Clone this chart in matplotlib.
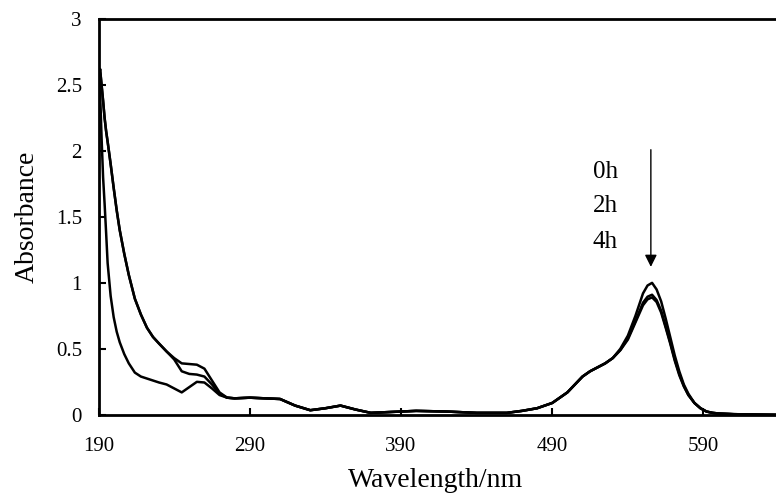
import matplotlib.pyplot as plt

plt.rcParams["font.family"] = ["Liberation Serif", "DejaVu Serif"]

# wavelength grid (nm) shared by the three spectra
wavelength = [190, 191, 192, 193, 194, 195, 196, 198, 200, 202, 204, 207, 210, 214, 218,
              222, 226, 230, 235, 240, 245, 250, 255, 260, 265, 270, 275, 280, 290, 300,
              310, 320, 330, 340, 350, 360, 370, 380, 390, 400, 420, 440, 460, 470, 480,
              490, 500, 505, 510, 515, 520, 525, 530, 535, 540, 545, 550, 553, 556, 559,
              562, 565, 568, 571, 574, 577, 580, 584, 588, 592, 596, 600, 610, 620, 640]

abs_0h = [2.62, 2.45, 2.10, 1.80, 1.60, 1.38, 1.15, 0.90, 0.74, 0.63, 0.55, 0.46, 0.39, 0.32, 0.29,
          0.275, 0.26, 0.245, 0.23, 0.20, 0.17, 0.21, 0.25, 0.245, 0.20, 0.15, 0.13, 0.125, 0.13, 0.125,
          0.12, 0.07, 0.035, 0.05, 0.07, 0.04, 0.015, 0.02, 0.025, 0.03, 0.025, 0.015, 0.015, 0.03, 0.05,
          0.09, 0.17, 0.23, 0.29, 0.33, 0.36, 0.39, 0.43, 0.50, 0.60, 0.75, 0.92, 0.98, 1.00, 0.95,
          0.86, 0.73, 0.59, 0.45, 0.33, 0.23, 0.16, 0.09, 0.05, 0.025, 0.015, 0.01, 0.005, 0.003, 0.0]

abs_2h = [2.55, 2.62, 2.50, 2.38, 2.25, 2.15, 2.07, 1.90, 1.72, 1.55, 1.40, 1.22, 1.06, 0.88, 0.76,
          0.66, 0.59, 0.54, 0.48, 0.42, 0.33, 0.31, 0.305, 0.29, 0.23, 0.16, 0.13, 0.125, 0.13, 0.125,
          0.12, 0.07, 0.035, 0.05, 0.07, 0.04, 0.015, 0.02, 0.025, 0.03, 0.025, 0.015, 0.015, 0.03, 0.05,
          0.09, 0.17, 0.23, 0.29, 0.33, 0.36, 0.39, 0.43, 0.49, 0.58, 0.71, 0.85, 0.895, 0.91, 0.87,
          0.79, 0.67, 0.55, 0.42, 0.31, 0.22, 0.15, 0.09, 0.05, 0.025, 0.015, 0.01, 0.005, 0.003, 0.0]

abs_4h = [2.55, 2.62, 2.50, 2.38, 2.25, 2.15, 2.07, 1.90, 1.72, 1.55, 1.40, 1.22, 1.06, 0.88, 0.76,
          0.66, 0.59, 0.54, 0.48, 0.43, 0.39, 0.385, 0.38, 0.35, 0.26, 0.17, 0.13, 0.125, 0.13, 0.125,
          0.12, 0.07, 0.035, 0.05, 0.07, 0.04, 0.015, 0.02, 0.025, 0.03, 0.025, 0.015, 0.015, 0.03, 0.05,
          0.09, 0.17, 0.23, 0.29, 0.33, 0.36, 0.39, 0.43, 0.49, 0.57, 0.70, 0.83, 0.875, 0.89, 0.855,
          0.775, 0.66, 0.54, 0.41, 0.30, 0.215, 0.15, 0.09, 0.05, 0.025, 0.015, 0.01, 0.005, 0.003, 0.0]

time_labels = ["0h", "2h", "4h"]
x_ticks = [190, 290, 390, 490, 590]
y_ticks = [0, 0.5, 1, 1.5, 2, 2.5, 3]

fig = plt.figure(figsize=(7.76, 4.98), dpi=100)
ax = fig.add_axes([0.127, 0.167, 0.877, 0.795])

for spec in (abs_0h, abs_2h, abs_4h):
    ax.plot(wavelength, spec, color="black", lw=1.8, solid_joinstyle="round")

ax.set_xlim(190, 640)
ax.set_ylim(0, 3)
ax.set_xticks(x_ticks)
ax.set_yticks(y_ticks)
ax.set_yticklabels([f"{t:g}" for t in y_ticks])
ax.tick_params(direction="in", length=5, width=1.5, labelsize=15, pad=12)
ax.tick_params(axis="x", pad=16)
for side in ("left", "bottom", "top", "right"):
    ax.spines[side].set_linewidth(2)

ax.set_xlabel("Wavelength/nm", fontsize=20)
ax.set_ylabel("Absorbance", fontsize=20)
ax.xaxis.set_label_coords(0.495, -0.135)
ax.yaxis.set_label_coords(-0.087, 0.5)

# time labels and downward arrow over the 555 nm band
for lab, yy in zip(time_labels, [1.84, 1.58, 1.31]):
    ax.text(525, yy, lab, fontsize=18, ha="center", va="center")
ax.annotate("", xy=(555.2, 1.10), xytext=(555.2, 2.03),
            arrowprops=dict(arrowstyle="-|>", color="black", lw=1, mutation_scale=18))

fig.savefig("out.png", dpi=100)
